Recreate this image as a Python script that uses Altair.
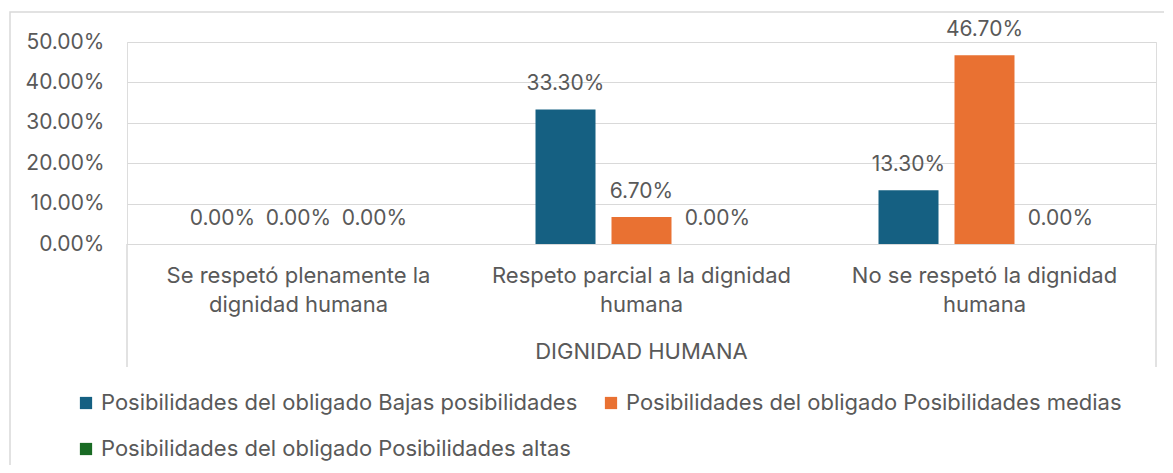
import altair as alt
import pandas as pd

categories = [
    "Se respetó plenamente la dignidad humana",
    "Respeto parcial a la dignidad humana",
    "No se respetó la dignidad humana",
]
category_labels = [
    "Se respetó plenamente la\ndignidad humana",
    "Respeto parcial a la dignidad\nhumana",
    "No se respetó la dignidad\nhumana",
]
series = [
    "Posibilidades del obligado Bajas posibilidades",
    "Posibilidades del obligado Posibilidades medias",
    "Posibilidades del obligado Posibilidades altas",
]
bajas = [0.0, 0.333, 0.133]
medias = [0.0, 0.067, 0.467]
altas = [0.0, 0.0, 0.0]
colors = ["#156082", "#E97132", "#196B24"]
group_title = "DIGNIDAD HUMANA"
y_ticks = [0.0, 0.1, 0.2, 0.3, 0.4, 0.5]

FONT = "Inter"
TXT = "#595959"
GRID = "#D9D9D9"
FS = 22      # words
FN = 21      # numbers
W, H = 1029, 202

rows = []
for s, vals in zip(series, [bajas, medias, altas]):
    for c, v in zip(categories, vals):
        rows.append({"cat": c, "series": s, "value": v})
df = pd.DataFrame(rows)
cat_df = pd.DataFrame({"cat": categories, "label": category_labels})
one = pd.DataFrame({"k": [0]})

x_scale = alt.Scale(domain=categories, paddingInner=0, paddingOuter=0)
x_enc = alt.X("cat:N", sort=categories, scale=x_scale, axis=None)
xo_enc = alt.XOffset("series:N", sort=series,
                     scale=alt.Scale(domain=series, paddingInner=0.2105, paddingOuter=0.862))
y_enc = alt.Y("value:Q", scale=alt.Scale(domain=[0, 0.5]),
              axis=alt.Axis(values=y_ticks, format=".2%", title=None, domain=False,
                            ticks=False, labelPadding=23, labelFontSize=FN,
                            labelColor=TXT, labelFont=FONT, grid=True,
                            gridColor=GRID, gridWidth=1))

border = alt.Chart(one).mark_rect(filled=False, stroke=GRID, strokeWidth=1.5).encode(
    x=alt.value(-117), x2=alt.value(1100), y=alt.value(-30), y2=alt.value(460))

bars = alt.Chart(df).mark_bar().encode(
    x=x_enc, xOffset=xo_enc, y=y_enc,
    color=alt.Color("series:N", sort=series,
                    scale=alt.Scale(domain=series, range=colors),
                    legend=alt.Legend(orient="none", legendX=-52, legendY=350,
                                      direction="horizontal", columns=2, title=None,
                                      symbolType="square", symbolSize=150,
                                      symbolStrokeWidth=0, labelFontSize=FS,
                                      labelColor=TXT, labelFont=FONT, labelLimit=0,
                                      columnPadding=22, rowPadding=24, labelOffset=4)),
)

labels = alt.Chart(df).mark_text(dy=-25, baseline="middle", fontSize=FN, color=TXT,
                                 font=FONT).encode(
    x=x_enc, xOffset=xo_enc, y=alt.Y("value:Q"),
    text=alt.Text("value:Q", format=".2%"))

cat_text = alt.Chart(cat_df).mark_text(lineBreak="\n", lineHeight=29, baseline="top",
                                       fontSize=FS, color=TXT, font=FONT).encode(
    x=x_enc, y=alt.value(H + 22), text="label:N")

box_l = alt.Chart(one).mark_rule(color=GRID, strokeWidth=1.5).encode(
    x=alt.value(0), y=alt.value(H), y2=alt.value(H + 123))
box_r = alt.Chart(one).mark_rule(color=GRID, strokeWidth=1.5).encode(
    x=alt.value(W), y=alt.value(H), y2=alt.value(H + 123))

title_text = alt.Chart(one).mark_text(baseline="middle", fontSize=FS, color=TXT,
                                      font=FONT).encode(
    x=alt.value(W / 2), y=alt.value(310), text=alt.value(group_title))

chart = alt.layer(border, bars, labels, cat_text, box_l, box_r, title_text).properties(
    width=W, height=H,
    autosize=alt.AutoSizeParams(type="none"),
    padding={"left": 119, "top": 34, "right": 8, "bottom": 221},
).configure_view(stroke=None).configure(background="white")

chart.save("out.html", embed_options={"renderer": "svg", "actions": False})
